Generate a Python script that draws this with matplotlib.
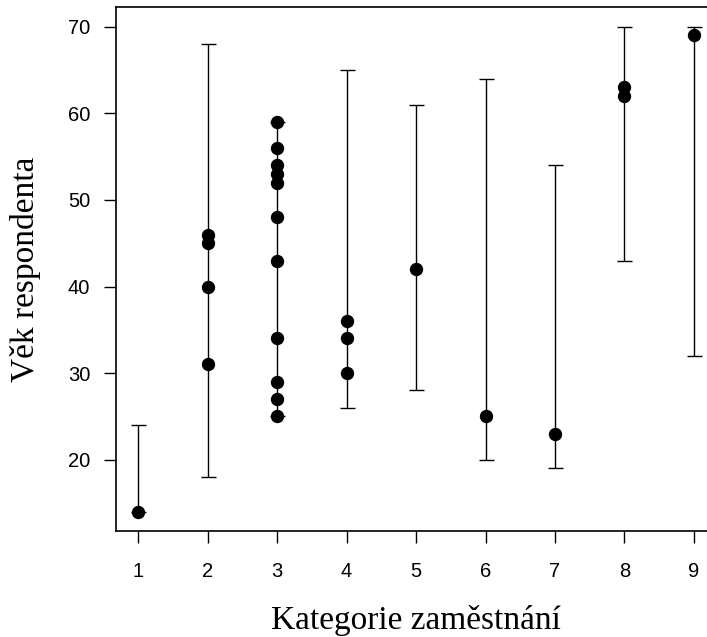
# Vek respondenta podle kategorie zamestnani

import matplotlib
matplotlib.use("Agg")
import matplotlib.pyplot as plt
import numpy as np

kategorie = [1, 2, 3, 4, 5, 6, 7, 8, 9]
vek_min = [14, 18, 25, 26, 28, 20, 19, 43, 32]
vek_max = [24, 68, 59, 65, 61, 64, 54, 70, 70]

# pozorovani (kategorie, vek)
bod_kat = [1,
           2, 2, 2, 2,
           3, 3, 3, 3, 3, 3, 3, 3, 3, 3, 3,
           4, 4, 4,
           5,
           6,
           7,
           8, 8,
           9]
bod_vek = [14,
           46, 45, 40, 31,
           59, 56, 54, 53, 52, 48, 43, 34, 29, 27, 25,
           36, 34, 30,
           42,
           25,
           23,
           63, 62,
           69]

x = np.array(kategorie)
lo = np.array(vek_min)
hi = np.array(vek_max)
mid = (lo + hi) / 2

fig = plt.figure(figsize=(7.07, 6.37), dpi=100)
ax = fig.add_axes([0.164, 0.1664, 0.849, 0.822])

ax.errorbar(x, mid, yerr=[mid - lo, hi - mid], fmt='none', ecolor='black',
            elinewidth=1, capsize=5.4, capthick=1)
ax.plot(bod_kat, bod_vek, 'o', color='black', ms=8.6, mec='black')

ax.set_xlim(0.68, 9.32)
ax.set_ylim(11.76, 72.24)
ax.set_xticks(kategorie)
ax.set_yticks([20, 30, 40, 50, 60, 70])
ax.tick_params(direction='out', length=8.6, width=1, labelsize=14.5)
ax.tick_params(axis='x', pad=14)
ax.tick_params(axis='y', pad=10)
for lab in ax.get_xticklabels() + ax.get_yticklabels():
    lab.set_family(['Liberation Sans', 'DejaVu Sans'])
for s in ax.spines.values():
    s.set_linewidth(1.2)

ax.set_xlabel('Kategorie zaměstnání', family=['Liberation Serif', 'DejaVu Serif'],
              fontsize=24, labelpad=17)
ax.set_ylabel('Věk respondenta', family=['Liberation Serif', 'DejaVu Serif'],
              fontsize=24, labelpad=19)

fig.savefig('out.png', dpi=100)
